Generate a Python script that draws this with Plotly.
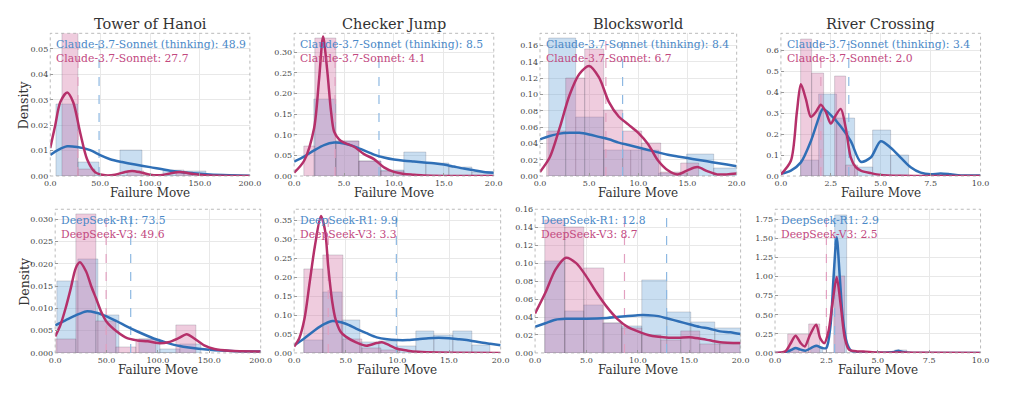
import plotly.graph_objects as go
from plotly.subplots import make_subplots

# ---------------- data ----------------
panel_titles = ["Tower of Hanoi", "Checker Jump", "Blocksworld", "River Crossing"]
top_models = ["Claude-3.7-Sonnet (thinking)", "Claude-3.7-Sonnet"]
bottom_models = ["DeepSeek-R1", "DeepSeek-V3"]

claude_think_mean = [48.9, 8.5, 8.4, 3.4]
claude_mean = [27.7, 4.1, 6.7, 2.0]
r1_mean = [73.5, 9.9, 12.8, 2.9]
v3_mean = [49.6, 3.3, 8.7, 2.5]

x_max = [200, 20, 20, 10]
x_dtick = [50, 5, 5, 2.5]
top_y_max = [0.0561, 0.346, 0.175, 0.68]
top_y_dtick = [0.01, 0.05, 0.02, 0.1]
top_y_fmt = [".2f", ".2f", ".2f", ".1f"]
bot_y_max = [0.0322, 0.379, 0.16, 1.88]
bot_y_dtick = [0.005, 0.05, 0.02, 0.25]
bot_y_fmt = [".3f", ".2f", ".2f", ".2f"]

# --- Tower of Hanoi, Claude ---
hanoi_think_edges = [6.2, 27.6, 49.0, 70.4, 91.8, 113.2, 134.6, 156.0]
hanoi_think_hist = [0.028, 0.0055, 0.0, 0.0102, 0.0, 0.0022, 0.0018]
hanoi_claude_edges = [11.8, 28.2, 44.6, 61.0, 77.4, 93.8, 110.2, 126.6, 143.0]
hanoi_claude_hist = [0.057, 0.0025, 0.0, 0.0, 0.002, 0.0, 0.0, 0.0016]
hanoi_think_kde_x = [0, 8, 17, 27, 40, 50, 60, 72, 85, 100, 120, 140, 160, 180, 200]
hanoi_think_kde_y = [0.0083, 0.0103, 0.0117, 0.0114, 0.0102, 0.0082, 0.0066, 0.0055, 0.0045,
                     0.0035, 0.0021, 0.0012, 0.0006, 0.0003, 0.0001]
hanoi_claude_kde_x = [0, 5, 10, 17, 23, 30, 37, 45, 55, 65, 75, 82, 90, 100, 110, 120, 130,
                      140, 155, 170, 200]
hanoi_claude_kde_y = [0.011, 0.020, 0.029, 0.0328, 0.029, 0.017, 0.0065, 0.0015, 0.0003, 0.0005,
                      0.0016, 0.002, 0.0015, 0.0005, 0.0003, 0.0010, 0.0016, 0.0010, 0.0003,
                      0.0001, 0.0]

# --- Checker Jump, Claude ---
checker_think_edges = [1.97, 4.23, 6.49, 8.75, 11.01, 13.27, 15.53, 17.79, 20.05]
checker_think_hist = [0.187, 0.085, 0.036, 0.015, 0.058, 0.03, 0.022, 0.008]
checker_claude_edges = [1.0, 2.1, 4.2, 6.5, 8.7, 11.0]
checker_claude_hist = [0.072, 0.335, 0.085, 0.035, 0.012]
checker_think_kde_x = [0, 1, 2, 3, 4, 5, 6, 7, 8, 9, 10, 11, 12, 13, 14, 15, 16, 17, 18, 19, 20]
checker_think_kde_y = [0.035, 0.047, 0.062, 0.075, 0.081, 0.079, 0.072, 0.062, 0.052, 0.045,
                       0.040, 0.037, 0.035, 0.033, 0.031, 0.028, 0.023, 0.018, 0.014, 0.010, 0.008]
checker_claude_kde_x = [0, 1, 2, 2.5, 2.9, 3.3, 3.7, 4, 4.5, 5, 6, 7, 8, 9, 10, 11, 12, 13, 15, 20]
checker_claude_kde_y = [0.008, 0.037, 0.116, 0.235, 0.338, 0.26, 0.156, 0.108, 0.089, 0.081,
                        0.071, 0.053, 0.041, 0.021, 0.010, 0.005, 0.003, 0.001, 0.0, 0.0]

# --- Blocksworld, Claude ---
blocks_think_edges = [0.9, 3.7, 6.5, 9.3, 12.1, 14.9, 17.7, 20.5]
blocks_think_hist = [0.169, 0.072, 0.031, 0.031, 0.003, 0.027, 0.01]
blocks_claude_edges = [0.7, 2.6, 4.6, 6.5, 8.4, 10.4, 12.3, 14.3, 16.2]
blocks_claude_hist = [0.055, 0.12, 0.155, 0.08, 0.055, 0.04, 0.004, 0.015]
blocks_think_kde_x = [0, 1, 2, 3, 4, 5, 6, 7, 8, 9, 10, 11, 12, 13, 14, 15, 16, 17, 18, 19, 20]
blocks_think_kde_y = [0.045, 0.049, 0.052, 0.053, 0.053, 0.051, 0.048, 0.045, 0.041, 0.038,
                      0.035, 0.032, 0.029, 0.026, 0.024, 0.022, 0.020, 0.018, 0.016, 0.014, 0.012]
blocks_claude_kde_x = [0, 1, 2, 3, 4, 5, 6, 7, 8, 9, 10, 11, 12, 13, 14, 15, 16, 17, 18, 19, 20]
blocks_claude_kde_y = [0.005, 0.023, 0.059, 0.099, 0.125, 0.135, 0.121, 0.091, 0.073, 0.063,
                       0.053, 0.039, 0.019, 0.007, 0.002, 0.007, 0.011, 0.006, 0.002, 0.002, 0.003]

# --- River Crossing, Claude ---
river_think_edges = [1.0, 1.9, 2.8, 3.7, 4.6, 5.5, 6.4]
river_think_hist = [0.075, 0.39, 0.275, 0.04, 0.22, 0.10]
river_claude_edges = [1.0, 1.57, 2.14, 2.71, 3.28, 3.85]
river_claude_hist = [0.65, 0.49, 0.0, 0.475, 0.05]
river_think_kde_x = [0, 0.5, 1, 1.5, 2, 2.1, 2.5, 3, 3.5, 4, 4.5, 5, 5.5, 6, 6.5, 7, 7.5, 8, 8.5,
                     9, 10]
river_think_kde_y = [0.011, 0.026, 0.065, 0.166, 0.305, 0.32, 0.29, 0.236, 0.166, 0.068, 0.088,
                     0.166, 0.135, 0.088, 0.042, 0.016, 0.008, 0.012, 0.008, 0.003, 0.002]
river_claude_kde_x = [0, 0.5, 0.8, 1, 1.25, 1.5, 1.75, 2, 2.25, 2.5, 2.75, 3, 3.25, 3.5, 3.75, 4,
                      4.5, 5, 6, 10]
river_claude_kde_y = [0.008, 0.073, 0.305, 0.437, 0.367, 0.282, 0.305, 0.34, 0.305, 0.25, 0.29,
                      0.32, 0.228, 0.088, 0.042, 0.026, 0.014, 0.005, 0.001, 0.0]

# --- Tower of Hanoi, DeepSeek ---
hanoi_r1_edges = [2, 22, 42, 62, 82, 102, 122, 142]
hanoi_r1_hist = [0.016, 0.021, 0.0085, 0.0, 0.003, 0.0008, 0.002]
hanoi_v3_edges = [1, 20.5, 40, 59.5, 79, 98.5, 118, 137.5]
hanoi_v3_hist = [0.003, 0.031, 0.007, 0.0013, 0.003, 0.0, 0.0063]
hanoi_r1_kde_x = [0, 10, 20, 30, 40, 50, 60, 70, 80, 90, 100, 110, 120, 130, 150, 175, 200]
hanoi_r1_kde_y = [0.0062, 0.0073, 0.0084, 0.0093, 0.009, 0.0082, 0.0071, 0.0059, 0.0048, 0.0038,
                  0.0029, 0.0022, 0.0016, 0.0012, 0.0007, 0.0004, 0.0003]
hanoi_v3_kde_x = [0, 5, 10, 15, 20, 24, 30, 35, 40, 45, 50, 60, 70, 80, 90, 100, 110, 120, 128,
                  135, 145, 155, 170, 200]
hanoi_v3_kde_y = [0.0037, 0.0062, 0.0099, 0.0143, 0.019, 0.0203, 0.0183, 0.015, 0.0121, 0.0091,
                  0.007, 0.0048, 0.0033, 0.0028, 0.0026, 0.0022, 0.0024, 0.0033, 0.0042, 0.0033,
                  0.0017, 0.0009, 0.0005, 0.0003]

# --- Checker Jump, DeepSeek ---
checker_r1_edges = [1.0, 2.8, 4.6, 6.4, 8.2, 10.0, 11.8, 13.6, 15.4, 17.2, 19.0]
checker_r1_hist = [0.033, 0.16, 0.085, 0.028, 0.03, 0.018, 0.058, 0.046, 0.056, 0.02]
checker_v3_edges = [1.0, 2.85, 4.7, 6.55, 8.4, 10.25]
checker_v3_hist = [0.222, 0.258, 0.035, 0.012, 0.008]
checker_r1_kde_x = [0, 1, 2, 3, 3.7, 5, 6, 7, 8, 9, 10, 11, 12, 13, 14, 15, 16, 17, 18, 19, 20]
checker_r1_kde_y = [0.020, 0.039, 0.060, 0.077, 0.084, 0.077, 0.064, 0.052, 0.041, 0.036, 0.034,
                    0.034, 0.036, 0.039, 0.040, 0.039, 0.036, 0.033, 0.028, 0.024, 0.020]
checker_v3_kde_x = [0, 0.5, 1, 1.5, 2, 2.6, 3, 3.3, 3.7, 4, 4.5, 5, 6, 7, 8, 8.5, 9, 10, 11, 12,
                    14, 20]
checker_v3_kde_y = [0.017, 0.039, 0.09, 0.185, 0.28, 0.361, 0.322, 0.228, 0.133, 0.09, 0.056,
                    0.043, 0.028, 0.019, 0.026, 0.028, 0.023, 0.011, 0.006, 0.003, 0.001, 0.0]

# --- Blocksworld, DeepSeek ---
blocks_r1_edges = [1.0, 2.9, 4.8, 6.6, 8.5, 10.4, 12.8, 15.2, 17.5, 20.0]
blocks_r1_hist = [0.102, 0.046, 0.053, 0.033, 0.030, 0.081, 0.045, 0.034, 0.028]
blocks_v3_edges = [1.0, 2.9, 4.8, 6.7, 8.5, 10.4, 12.3, 14.2, 16.1, 18.0, 19.9]
blocks_v3_hist = [0.148, 0.14, 0.094, 0.033, 0.028, 0.02, 0.014, 0.024, 0.01, 0.01]
blocks_r1_kde_x = [0, 1, 2, 3, 5, 7, 8, 10, 11, 12, 13, 14, 15, 16, 17, 18, 19, 20]
blocks_r1_kde_y = [0.029, 0.033, 0.037, 0.038, 0.038, 0.039, 0.040, 0.042, 0.042, 0.041, 0.038,
                   0.035, 0.032, 0.029, 0.027, 0.024, 0.023, 0.021]
blocks_v3_kde_x = [0, 1, 2, 3, 4, 5, 6, 7, 8, 9, 10, 11, 12, 13, 14, 15, 16, 17, 18, 20]
blocks_v3_kde_y = [0.044, 0.067, 0.093, 0.106, 0.10, 0.085, 0.067, 0.051, 0.038, 0.029, 0.024,
                   0.020, 0.018, 0.017, 0.017, 0.0175, 0.016, 0.014, 0.012, 0.011]

# --- River Crossing, DeepSeek ---
river_r1_edges = [0.6, 1.18, 1.76, 2.34, 2.92, 3.5, 4.08, 4.66, 5.24, 5.82, 6.4]
river_r1_hist = [0.05, 0.0, 0.08, 0.0, 1.8, 0.0, 0.0, 0.0, 0.0, 0.03]
river_v3_edges = [0.65, 1.65, 2.2, 2.85, 3.4]
river_v3_hist = [0.24, 0.38, 0.0, 1.0]
river_r1_kde_x = [0, 0.5, 0.8, 1, 1.25, 1.5, 2, 2.3, 2.5, 2.7, 2.85, 3, 3.15, 3.3, 3.5, 3.7, 4,
                  5, 5.8, 6, 6.2, 6.5, 10]
river_r1_kde_y = [0.0, 0.005, 0.04, 0.064, 0.043, 0.03, 0.094, 0.064, 0.064, 0.36, 1.0, 1.515,
                  1.0, 0.45, 0.128, 0.03, 0.008, 0.002, 0.013, 0.03, 0.013, 0.002, 0.0]
river_v3_kde_x = [0, 0.5, 0.75, 1, 1.25, 1.45, 1.7, 2, 2.2, 2.4, 2.6, 2.8, 3, 3.2, 3.4, 3.6, 4,
                  4.3, 5, 6, 7, 10]
river_v3_kde_y = [0.0, 0.02, 0.12, 0.226, 0.128, 0.085, 0.235, 0.37, 0.19, 0.128, 0.28, 0.66,
                  0.99, 0.62, 0.19, 0.043, 0.02, 0.02, 0.005, 0.004, 0.002, 0.0]

# ---------------- styling ----------------
W, H = 1024, 398
BLUE_LINE = "#2f6fb6"
PINK_LINE = "#b5306a"
BLUE_TEXT = "#4a88c7"
PINK_TEXT = "#c2497f"
BLUE_FILL = "rgba(100,160,215,0.35)"
PINK_FILL = "rgba(210,110,160,0.35)"
BLUE_DASH = "#8db8e2"
PINK_DASH = "#e2a0c0"
FONT = "DejaVu Serif"

top_x_px = [(45, 248), (293, 496), (543, 743), (788, 991)]
bot_x_px = [(50, 259), (293, 503), (538, 747), (782, 991)]
top_y_px = (30, 176)
bot_y_px = (210, 357)

panels_top = [
    (hanoi_think_edges, hanoi_think_hist, hanoi_claude_edges, hanoi_claude_hist,
     hanoi_think_kde_x, hanoi_think_kde_y, hanoi_claude_kde_x, hanoi_claude_kde_y),
    (checker_think_edges, checker_think_hist, checker_claude_edges, checker_claude_hist,
     checker_think_kde_x, checker_think_kde_y, checker_claude_kde_x, checker_claude_kde_y),
    (blocks_think_edges, blocks_think_hist, blocks_claude_edges, blocks_claude_hist,
     blocks_think_kde_x, blocks_think_kde_y, blocks_claude_kde_x, blocks_claude_kde_y),
    (river_think_edges, river_think_hist, river_claude_edges, river_claude_hist,
     river_think_kde_x, river_think_kde_y, river_claude_kde_x, river_claude_kde_y),
]
panels_bot = [
    (hanoi_r1_edges, hanoi_r1_hist, hanoi_v3_edges, hanoi_v3_hist,
     hanoi_r1_kde_x, hanoi_r1_kde_y, hanoi_v3_kde_x, hanoi_v3_kde_y),
    (checker_r1_edges, checker_r1_hist, checker_v3_edges, checker_v3_hist,
     checker_r1_kde_x, checker_r1_kde_y, checker_v3_kde_x, checker_v3_kde_y),
    (blocks_r1_edges, blocks_r1_hist, blocks_v3_edges, blocks_v3_hist,
     blocks_r1_kde_x, blocks_r1_kde_y, blocks_v3_kde_x, blocks_v3_kde_y),
    (river_r1_edges, river_r1_hist, river_v3_edges, river_v3_hist,
     river_r1_kde_x, river_r1_kde_y, river_v3_kde_x, river_v3_kde_y),
]

fig = make_subplots(rows=2, cols=4)


def px_x(p):
    return p / W


def px_y(p):
    return 1 - p / H


def add_hist(edges, heights, fill, row, col):
    centers = [(edges[i] + edges[i + 1]) / 2 for i in range(len(heights))]
    widths = [edges[i + 1] - edges[i] for i in range(len(heights))]
    fig.add_trace(go.Bar(x=centers, y=heights, width=widths, marker_color=fill,
                         marker_line=dict(color="rgba(70,70,90,0.35)", width=0.6),
                         showlegend=False, hoverinfo="skip"), row=row, col=col)


annotations = []
shapes = []

for r, (panels, models, means_a, means_b, ymaxs, ydt, yfmt, xpx, ypx) in enumerate([
        (panels_top, top_models, claude_think_mean, claude_mean, top_y_max, top_y_dtick,
         top_y_fmt, top_x_px, top_y_px),
        (panels_bot, bottom_models, r1_mean, v3_mean, bot_y_max, bot_y_dtick, bot_y_fmt,
         bot_x_px, bot_y_px)]):
    row = r + 1
    for c in range(4):
        col = c + 1
        xp = xpx[c]
        be, bh, pe, ph, bkx, bky, pkx, pky = panels[c]
        ymax = ymaxs[c]
        add_hist(be, bh, BLUE_FILL, row, col)
        add_hist(pe, ph, PINK_FILL, row, col)
        # mean lines
        fig.add_trace(go.Scatter(x=[means_a[c], means_a[c]], y=[0, ymax], mode="lines",
                                 line=dict(color=BLUE_DASH, width=1.2, dash="dash"),
                                 showlegend=False, hoverinfo="skip"), row=row, col=col)
        fig.add_trace(go.Scatter(x=[means_b[c], means_b[c]], y=[0, ymax], mode="lines",
                                 line=dict(color=PINK_DASH, width=1.2, dash="dash"),
                                 showlegend=False, hoverinfo="skip"), row=row, col=col)
        # KDE lines
        fig.add_trace(go.Scatter(x=bkx, y=bky, mode="lines",
                                 line=dict(color=BLUE_LINE, width=2.5, shape="spline",
                                           smoothing=0.8),
                                 showlegend=False, hoverinfo="skip"), row=row, col=col)
        fig.add_trace(go.Scatter(x=pkx, y=pky, mode="lines",
                                 line=dict(color=PINK_LINE, width=2.5, shape="spline",
                                           smoothing=0.8),
                                 showlegend=False, hoverinfo="skip"), row=row, col=col)

        idx = r * 4 + c + 1
        xa = "xaxis" if idx == 1 else f"xaxis{idx}"
        ya = "yaxis" if idx == 1 else f"yaxis{idx}"
        xref = "x" if idx == 1 else f"x{idx}"
        yref = "y" if idx == 1 else f"y{idx}"
        fig.layout[xa].update(
            domain=[px_x(xp[0]), px_x(xp[1])], range=[0, x_max[c]], dtick=x_dtick[c],
            tick0=0, tickformat=".1f", showgrid=True, gridcolor="#e8e8e8", gridwidth=0.8,
            zeroline=False, showline=False, ticks="inside", ticklen=3, tickcolor="#999",
            tickfont=dict(family=FONT, size=8, color="#444"), ticklabelstandoff=1)
        fig.layout[ya].update(
            domain=[px_y(ypx[1]), px_y(ypx[0])], range=[0, ymax], dtick=ydt[c], tick0=0,
            tickformat=yfmt[c], showgrid=True, gridcolor="#e8e8e8", gridwidth=0.8,
            zeroline=False, showline=False, ticks="inside", ticklen=3, tickcolor="#999",
            tickfont=dict(family=FONT, size=8, color="#444"), ticklabelstandoff=1)

        # frame
        shapes.append(dict(type="rect", xref=f"{xref} domain", yref=f"{yref} domain",
                           x0=0, x1=1, y0=0, y1=1,
                           line=dict(color="#a8a8a8", width=0.8, dash="dot")))
        # legend-like texts
        annotations.append(dict(xref=f"{xref} domain", yref=f"{yref} domain", x=0, y=1,
                                xanchor="left", yanchor="middle", xshift=4, yshift=-11,
                                text=f"{models[0]}: {means_a[c]:.1f}", showarrow=False,
                                font=dict(family=FONT, size=10.8, color=BLUE_TEXT)))
        annotations.append(dict(xref=f"{xref} domain", yref=f"{yref} domain", x=0, y=1,
                                xanchor="left", yanchor="middle", xshift=4, yshift=-25,
                                text=f"{models[1]}: {means_b[c]:.1f}", showarrow=False,
                                font=dict(family=FONT, size=10.8, color=PINK_TEXT)))
        # x axis title
        annotations.append(dict(xref="paper", yref="paper",
                                x=px_x((xp[0] + xp[1]) / 2), y=px_y(ypx[1] + 17),
                                xanchor="center", yanchor="middle", text="Failure Move",
                                showarrow=False,
                                font=dict(family=FONT, size=12, color="#333")))
        if r == 0:
            annotations.append(dict(xref="paper", yref="paper",
                                    x=px_x((xp[0] + xp[1]) / 2), y=px_y(20.5),
                                    xanchor="center", yanchor="middle", text=panel_titles[c],
                                    showarrow=False,
                                    font=dict(family=FONT, size=14.5, color="#333")))
        if c == 0:
            annotations.append(dict(xref="paper", yref="paper", x=px_x(18),
                                    y=px_y((ypx[0] + ypx[1]) / 2), xanchor="center",
                                    yanchor="middle", text="Density", textangle=-90,
                                    showarrow=False,
                                    font=dict(family=FONT, size=12.5, color="#333")))

fig.update_layout(width=W, height=H, margin=dict(l=0, r=0, t=0, b=0),
                  paper_bgcolor="white", plot_bgcolor="white", barmode="overlay",
                  bargap=0, showlegend=False, annotations=annotations, shapes=shapes,
                  font=dict(family=FONT))

fig.write_html("out.html", config={"displayModeBar": False},
               post_script="document.body.style.margin='0';"
                           "document.body.style.overflow='hidden';")
